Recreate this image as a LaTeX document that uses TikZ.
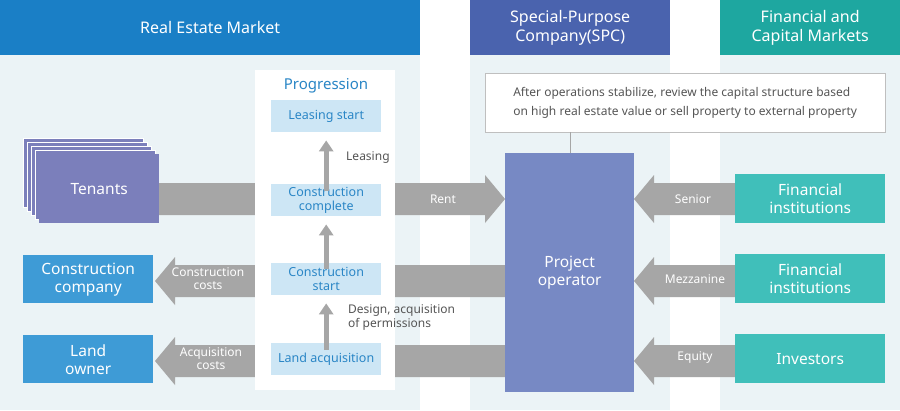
\documentclass[tikz,border=0pt]{standalone}
\usepackage{fontspec}
\usetikzlibrary{arrows.meta}
\setmainfont{Noto Sans}
\definecolor{bgc}{HTML}{EBF3F6}
\definecolor{hdA}{HTML}{1A7FC6}
\definecolor{hdB}{HTML}{4A63AE}
\definecolor{hdC}{HTML}{1EA7A0}
\definecolor{tenc}{HTML}{7B7FBB}
\definecolor{opc}{HTML}{7789C4}
\definecolor{bluebox}{HTML}{3E9BD6}
\definecolor{tealbox}{HTML}{40BFBA}
\definecolor{prog}{HTML}{CDE6F5}
\definecolor{progt}{HTML}{2A86C6}
\definecolor{arr}{HTML}{A6A6A6}
\definecolor{txtg}{HTML}{555555}
\tikzset{
 hdr/.style={fill=#1,text=white,font=\bfseries\fontsize{16}{19}\selectfont,align=center,inner sep=0pt},
 bx/.style={fill=#1,text=white,font=\bfseries\fontsize{15.5}{18}\selectfont,align=center,inner sep=0pt},
 pb/.style={fill=prog,text=progt,font=\fontsize{12.5}{14}\selectfont,align=center,inner sep=0pt,minimum width=110,minimum height=32},
 lbl/.style={text=white,font=\bfseries\fontsize{12}{13}\selectfont,align=center,inner sep=0pt},
 glb/.style={text=txtg,font=\fontsize{12}{14}\selectfont,align=left,inner sep=0pt},
 uparr/.style={arr,line width=5,-{Triangle[width=14,length=11]}}
}
\begin{document}
\begin{tikzpicture}[x=1pt,y=-1pt]
\def\rarr#1#2#3{\fill[arr] (#1,#3-16)--(#2-20,#3-16)--(#2-20,#3-24)--(#2,#3)--(#2-20,#3+24)--(#2-20,#3+16)--(#1,#3+16)--cycle;}
\def\larr#1#2#3{\fill[arr] (#1,#3-16)--(#2+20,#3-16)--(#2+20,#3-24)--(#2,#3)--(#2+20,#3+24)--(#2+20,#3+16)--(#1,#3+16)--cycle;}
\useasboundingbox (0,0) rectangle (900,410);
\fill[white] (0,0) rectangle (900,410);
\fill[bgc] (0,55) rectangle (420,410);
\fill[bgc] (470,55) rectangle (670,410);
\fill[bgc] (720,55) rectangle (900,410);
\node[hdr=hdA,minimum width=420,minimum height=55,anchor=north west] (h1) at (0,0) {Real Estate Market};
\node[hdr=hdB,minimum width=200,minimum height=55,anchor=north west] (h2) at (470,0) {Special-Purpose\\Company(SPC)};
\node[hdr=hdC,minimum width=180,minimum height=55,anchor=north west] (h3) at (720,0) {Financial and\\Capital Markets};
\rarr{159}{505}{199}
\larr{505}{155}{281}
\larr{505}{155}{361}
\larr{735}{634}{199}
\larr{735}{634}{281}
\larr{735}{634}{361}
\fill[white] (255,70) rectangle (395,390);
\node[text=progt,font=\bfseries\fontsize{15}{18}\selectfont] (pt) at (326,86) {Progression};
\node[pb,anchor=north west] (p1) at (271,100) {Leasing start};
\node[pb,anchor=north west] (p2) at (271,184) {Construction\\complete};
\node[pb,anchor=north west] (p3) at (271,263) {Construction\\start};
\node[pb,anchor=north west] (p4) at (271,343) {Land acquisition};
\draw[uparr] ([yshift=-7]p2.north) -- ([yshift=-8]p1.south);
\draw[uparr] ([yshift=-6]p3.north) -- ([yshift=-8]p2.south);
\draw[uparr] ([yshift=-7]p4.north) -- ([yshift=-8]p3.south);
\node[glb,anchor=west] (l1) at (346,158) {Leasing};
\node[glb,anchor=west,align=left] (l2) at (348,318) {Design, acquisition\\of permissions};
\foreach \i in {4,3,2,1}{
 \filldraw[fill=tenc,draw=white,line width=0.8] (39-4*\i,154-4*\i) rectangle (159-4*\i,223-4*\i);}
\node[bx=tenc,minimum width=120,minimum height=69,anchor=north west] (ten) at (39,154) {Tenants};
\node[bx=bluebox,minimum width=130,minimum height=48,anchor=north west] (cc) at (23,255) {Construction\\company};
\node[bx=bluebox,minimum width=130,minimum height=48,anchor=north west] (lo) at (23,335) {Land\\owner};
\node[bx=opc,minimum width=129,minimum height=239,anchor=north west] (op) at (505,153) {Project\\operator};
\node[bx=tealbox,minimum width=150,minimum height=49,anchor=north west] (f1) at (735,174) {Financial\\institutions};
\node[bx=tealbox,minimum width=150,minimum height=49,anchor=north west] (f2) at (735,254) {Financial\\institutions};
\node[bx=tealbox,minimum width=150,minimum height=49,anchor=north west] (f3) at (735,334) {Investors};
\node[lbl] (rl) at (443,199) {Rent};
\node[lbl] (cl) at (208,279) {Construction\\costs};
\node[lbl] (al) at (211,359) {Acquisition\\costs};
\node[lbl] (sl) at (693,199) {Senior};
\node[lbl] (ml) at (695,279) {Mezzanine};
\node[lbl] (el) at (695,358) {Equity};
\node[draw=black!25,fill=white,text=txtg,font=\fontsize{12}{19}\selectfont,align=left,minimum width=400,minimum height=59,anchor=north west,inner xsep=15] (co) at (485,73) {After operations stabilize, review the capital structure based\\on high real estate value or sell property to external property};
\draw[black!35] (570,132) -- (op.north -| 570,0);
\end{tikzpicture}
\end{document}
